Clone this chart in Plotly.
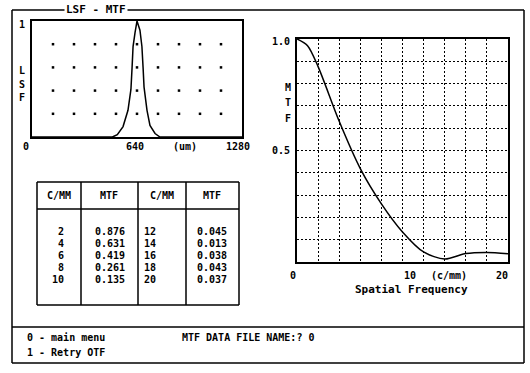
import plotly.graph_objects as go

W, H = 530, 373

# ---- data ----
lsf_um = [0, 490, 520, 555, 585, 603, 610, 616, 628, 640, 658, 670, 677, 683, 701, 719, 750, 780, 1280]
lsf_val = [0, 0, 0.02, 0.09, 0.23, 0.41, 0.6, 0.78, 0.9, 1.0, 0.92, 0.78, 0.6, 0.43, 0.23, 0.1, 0.03, 0, 0]
lsf_tick_vals = [0, 640, 1280]
lsf_tick_text = ["0", "640", "1280"]

table_freq = [2, 4, 6, 8, 10, 12, 14, 16, 18, 20]
table_mtf = [0.876, 0.631, 0.419, 0.261, 0.135, 0.045, 0.013, 0.038, 0.043, 0.037]
mtf_freq = [0, 1] + table_freq
mtf_val = [1.0, 0.97] + table_mtf
mtf_x_ticks = [0, 10, 20]
mtf_y_ticks = [1.0, 0.5]

FONT = "DejaVu Sans Mono"


def px(x):
    return x / W


def py(y):
    return 1 - y / H


fig = go.Figure()

# LSF curve
fig.add_trace(go.Scatter(x=lsf_um, y=lsf_val, mode="lines",
                         line=dict(color="black", width=1.5),
                         xaxis="x", yaxis="y", hoverinfo="skip", showlegend=False))
# LSF dot grid
gx, gy = [], []
for k in range(1, 10):
    for j in range(1, 5):
        gx.append(128 * k)
        gy.append(0.2 * j)
fig.add_trace(go.Scatter(x=gx, y=gy, mode="markers",
                         marker=dict(color="black", size=2.5, symbol="square"),
                         xaxis="x", yaxis="y", hoverinfo="skip", showlegend=False))

# MTF curve
fig.add_trace(go.Scatter(x=mtf_freq, y=mtf_val, mode="lines",
                         line=dict(color="black", width=1.5, shape="spline", smoothing=0.8),
                         xaxis="x2", yaxis="y2", hoverinfo="skip", showlegend=False))

axis_common = dict(showline=True, mirror=True, linecolor="black", linewidth=1.5,
                   ticks="", showticklabels=False, zeroline=False, fixedrange=True)

fig.update_layout(
    width=W, height=H,
    margin=dict(l=0, r=0, t=0, b=0),
    paper_bgcolor="white", plot_bgcolor="white",
    font=dict(family=FONT, color="black", size=10),
    xaxis=dict(domain=[px(32), px(242)], range=[0, 1280], showgrid=False, anchor="y", **axis_common),
    yaxis=dict(domain=[py(137), py(21)], range=[0, 1], showgrid=False, anchor="x", **axis_common),
    xaxis2=dict(domain=[px(297), px(508)], range=[0, 20], anchor="y2", showgrid=True,
                gridcolor="black", gridwidth=1, griddash="2px,2px", dtick=2, tick0=0, **axis_common),
    yaxis2=dict(domain=[py(262), py(39)], range=[0, 1], anchor="x2", showgrid=True,
                gridcolor="black", gridwidth=1, griddash="2px,2px", dtick=0.1, tick0=0, **axis_common),
)

shapes = []


def line(x0, y0, x1, y1, w=1.5):
    shapes.append(dict(type="line", xref="paper", yref="paper",
                       x0=px(x0), y0=py(y0), x1=px(x1), y1=py(y1),
                       line=dict(color="black", width=w)))


# outer frame
line(12, 10, 524, 10)
line(12, 10, 12, 363)
line(524, 10, 524, 363)
line(12, 363, 524, 363)
line(12, 327, 524, 327)

# table
tl, tr, tt, tb = 37, 239, 182, 305
line(tl, tt, tr, tt)
line(tl, tb, tr, tb)
line(tl, tt, tl, tb)
line(tr, tt, tr, tb)
line(tl, 209, tr, 209)
for cx in [81, 138, 186]:
    line(cx, tt, cx, tb)

fig.update_layout(shapes=shapes)

ann = []


def text(s, x, y, anchor="center", size=10, bg=None):
    d = dict(text=s, xref="paper", yref="paper", x=px(x), y=py(y),
             xanchor=anchor, yanchor="middle", showarrow=False,
             font=dict(family=FONT, size=size, color="black", weight="bold"))
    if bg:
        d["bgcolor"] = bg
    ann.append(d)


# title
text("LSF - MTF", 96, 9, size=11, bg="white")

# LSF labels
text("1", 22, 24)
for ch, yy in zip("LSF", [70, 84, 98]):
    text(ch, 22, yy)
lsf_label_px = {0: 26, 640: 135, 1280: 238}
for v, t in zip(lsf_tick_vals, lsf_tick_text):
    text(t, lsf_label_px[v], 146)
text("(um)", 185, 146)

# MTF labels
mtf_y_px = {1.0: 42, 0.5: 150}
for v in mtf_y_ticks:
    text(f"{v:.1f}", 281, mtf_y_px[v])
for ch, yy in zip("MTF", [88, 103, 118]):
    text(ch, 288, yy)
mtf_x_px = {0: 293, 10: 410, 20: 502}
for v in mtf_x_ticks:
    text(str(v), mtf_x_px[v], 275)
text("(c/mm)", 449, 275)
text("Spatial Frequency", 411, 289, size=11)

# table text
for s, x in zip(["C/MM", "MTF", "C/MM", "MTF"], [59, 109, 162, 212]):
    text(s, x, 195)
row_y = [231, 243, 255, 267, 279]
for i in range(5):
    text(str(table_freq[i]), 66, row_y[i], anchor="right")
    text(f"{table_mtf[i]:.3f}", 93, row_y[i], anchor="left")
    text(str(table_freq[i + 5]), 158, row_y[i], anchor="right")
    text(f"{table_mtf[i + 5]:.3f}", 195, row_y[i], anchor="left")

# bottom menu
text("0 - main menu", 25, 337, anchor="left")
text("1 - Retry OTF", 25, 352, anchor="left")
text("MTF DATA FILE NAME:? 0", 180, 337, anchor="left")

fig.update_layout(annotations=ann)
fig.write_html("out.html", config={"displayModeBar": False},
               post_script="document.body.style.margin='0';document.body.style.overflow='hidden';")
